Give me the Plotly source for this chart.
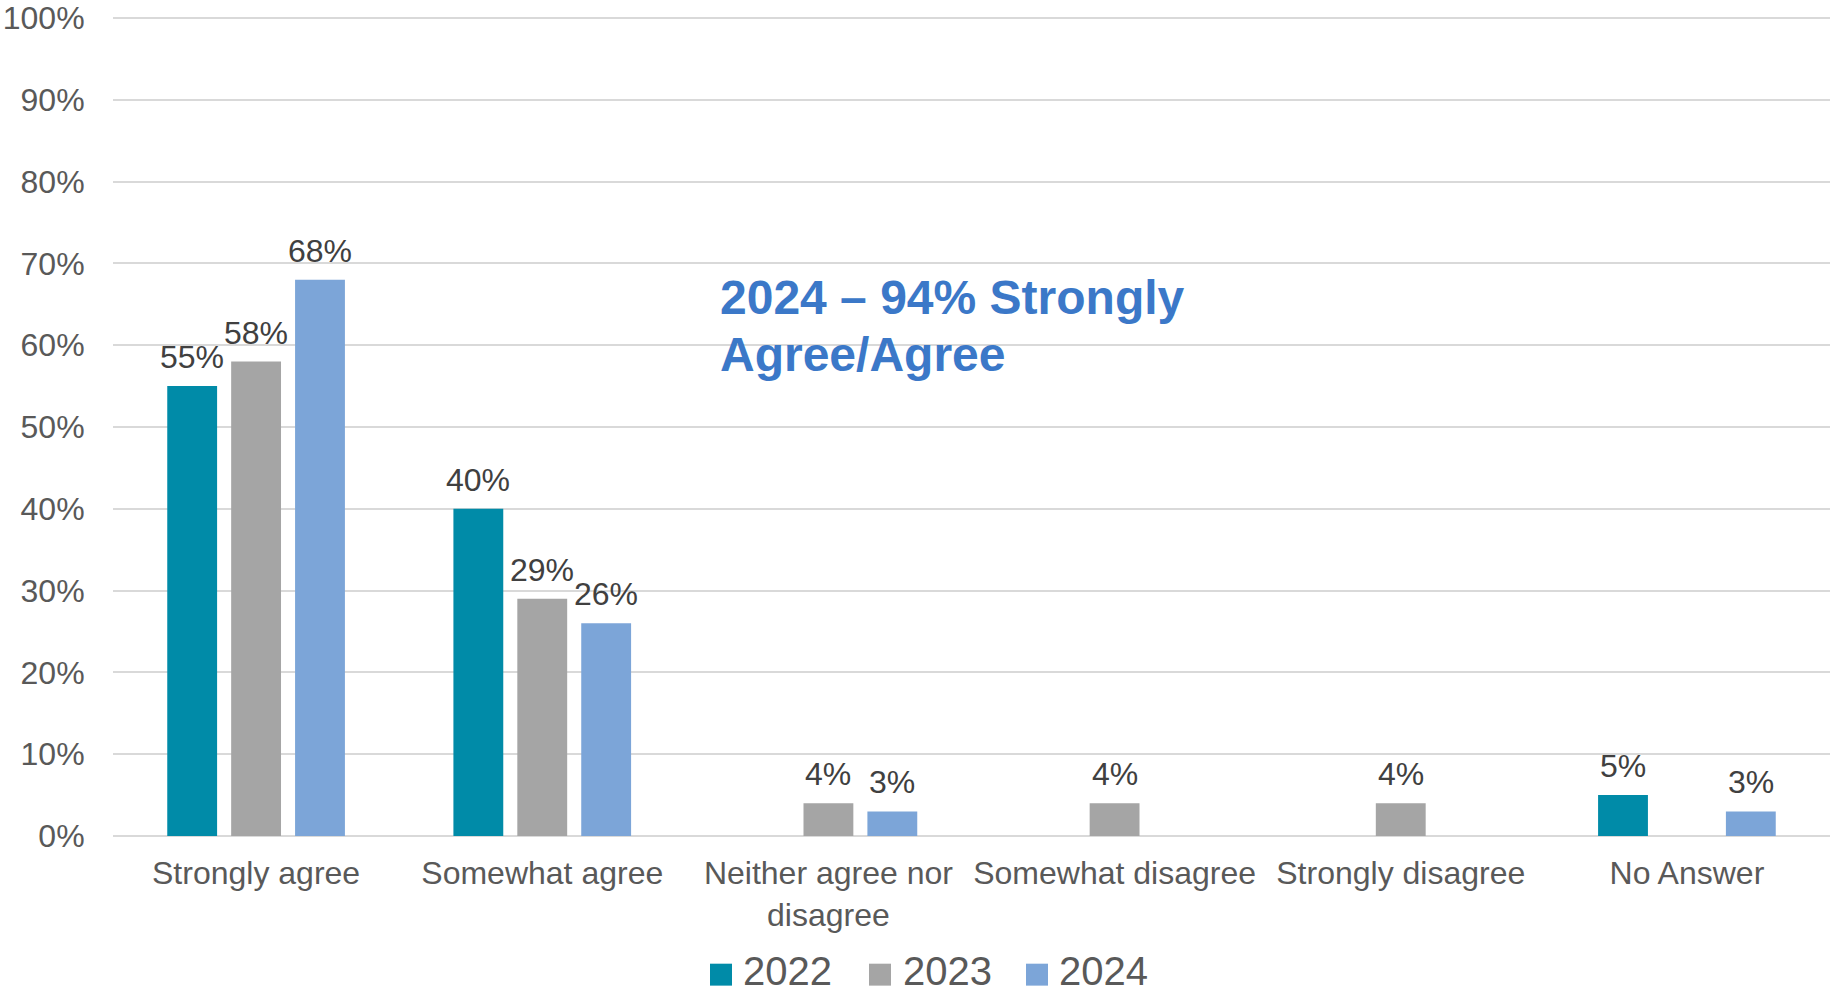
import plotly.graph_objects as go

# Survey responses by year (percent of respondents)
categories = [
    "Strongly agree",
    "Somewhat agree",
    "Neither agree nor<br>disagree",
    "Somewhat disagree",
    "Strongly disagree",
    "No Answer",
]
years = ["2022", "2023", "2024"]
values_2022 = [55, 40, None, None, None, 5]
values_2023 = [58, 29, 4, 4, 4, None]
values_2024 = [68, 26, 3, None, None, 3]
y_ticks = list(range(0, 101, 10))

series = [values_2022, values_2023, values_2024]
colors = ["#008BA8", "#A5A5A5", "#7CA5D8"]

W, H = 1830, 996
ML, MR, MT, MB = 113, 0, 14, 160
FONT = "Liberation Sans, Arial, sans-serif"
BARGAP = 0.33
BARGROUPGAP = 0.22

fig = go.Figure()
for name, vals, col in zip(years, series, colors):
    fig.add_trace(go.Bar(
        name=name,
        x=categories,
        y=vals,
        marker=dict(color=col, line=dict(width=0)),
        showlegend=False,
    ))


def px_x(p):
    return (p - ML) / (W - ML - MR)


def px_y(p):
    return (H - MB - p) / (H - MT - MB)


annotations = []

# Value labels above each bar, shifted sideways onto their bar within the group
slot_px = (W - ML - MR) / len(categories) * (1 - BARGAP) / len(series)
for k, (vals, name) in enumerate(zip(series, years)):
    for cat, v in zip(categories, vals):
        if v is None:
            continue
        annotations.append(dict(
            text=f"{v}%", xref="x", yref="y", x=cat, y=v,
            xshift=(k - 1) * slot_px, yshift=9,
            xanchor="center", yanchor="bottom", showarrow=False,
            font=dict(family=FONT, size=32, color="#404040"),
        ))

# Legend drawn as colour squares with year labels beneath the plot
shapes = []
legend_items = [(710, 741), (869, 901), (1026, 1057)]
for (sq_left, txt_left), name, col in zip(legend_items, years, colors):
    shapes.append(dict(
        type="rect", xref="paper", yref="paper",
        x0=px_x(sq_left), x1=px_x(sq_left + 22),
        y0=px_y(986), y1=px_y(964),
        fillcolor=col, line=dict(width=0),
    ))
    annotations.append(dict(
        text=name, xref="paper", yref="paper",
        x=px_x(txt_left), y=px_y(971),
        xanchor="left", yanchor="middle", showarrow=False,
        font=dict(family=FONT, size=40, color="#595959"),
    ))

# Highlight note, one annotation per line
for line, ypx in [("2024 – 94% Strongly", 296), ("Agree/Agree", 353)]:
    annotations.append(dict(
        text=f"<b>{line}</b>",
        xref="paper", yref="paper",
        x=px_x(718), y=px_y(ypx),
        xanchor="left", yanchor="middle", align="left", showarrow=False,
        font=dict(family=FONT, size=48, color="#3B78C8"),
    ))

fig.update_layout(
    width=W, height=H,
    margin=dict(l=ML, r=MR, t=MT, b=MB),
    paper_bgcolor="white",
    plot_bgcolor="white",
    barmode="group",
    bargap=BARGAP,
    bargroupgap=BARGROUPGAP,
    shapes=shapes,
    annotations=annotations,
    font=dict(family=FONT, size=32, color="#595959"),
)
fig.update_xaxes(
    type="category",
    showgrid=False,
    showline=False,
    ticks="outside", ticklen=9, tickcolor="rgba(0,0,0,0)",
    tickfont=dict(family=FONT, size=32, color="#595959"),
)
fig.update_yaxes(
    range=[0, 100.25],
    tickvals=y_ticks,
    ticktext=[f"{t}%" for t in y_ticks],
    ticklabeloverflow="allow",
    showgrid=True, gridcolor="#D9D9D9", gridwidth=2,
    zeroline=True, zerolinecolor="#D9D9D9", zerolinewidth=2,
    showline=False,
    ticks="outside", ticklen=21, tickcolor="rgba(0,0,0,0)",
    tickfont=dict(family=FONT, size=32, color="#595959"),
)

fig.write_html("out.html")
